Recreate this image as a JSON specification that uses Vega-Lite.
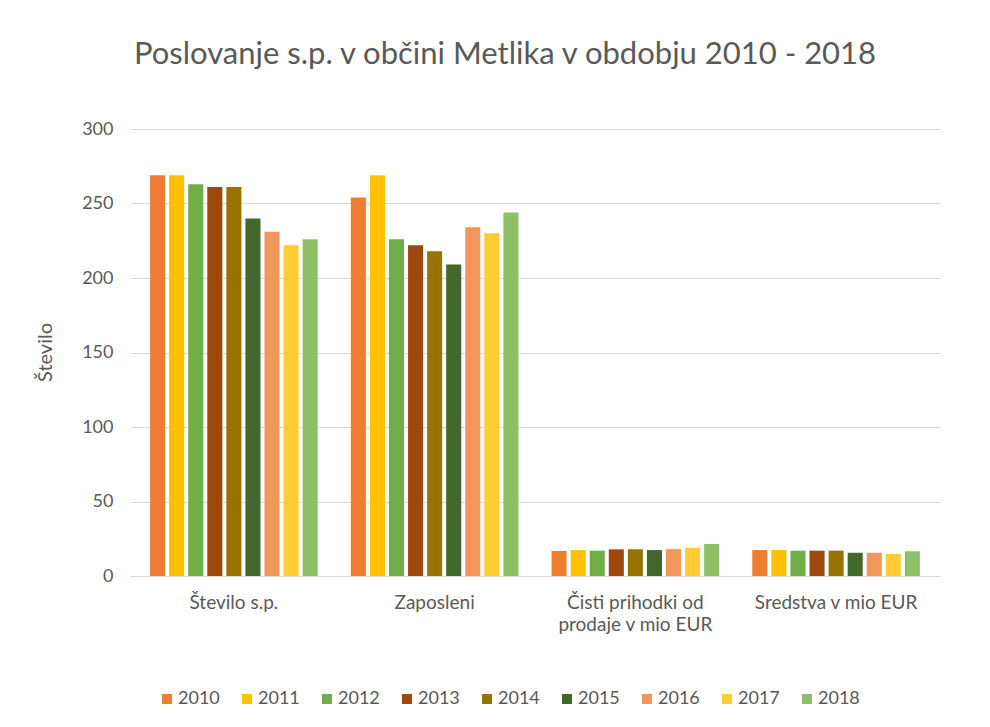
{
  "$schema": "https://vega.github.io/schema/vega-lite/v6.json",
  "autosize": {"type": "none"},
  "width": 810,
  "height": 447,
  "padding": {"left": 130, "top": 129, "right": 50, "bottom": 151},
  "background": "white",
  "title": {
    "text": "Poslovanje s.p. v občini Metlika v obdobju 2010 - 2018",
    "font": "Lato",
    "fontSize": 31,
    "fontWeight": "normal",
    "color": "#595959",
    "anchor": "middle",
    "dx": -30,
    "offset": 49
  },
  "data": {
    "values": [
      {"kat": "Število s.p.", "leto": "2010", "v": 269},
      {"kat": "Število s.p.", "leto": "2011", "v": 269},
      {"kat": "Število s.p.", "leto": "2012", "v": 263},
      {"kat": "Število s.p.", "leto": "2013", "v": 261},
      {"kat": "Število s.p.", "leto": "2014", "v": 261},
      {"kat": "Število s.p.", "leto": "2015", "v": 240},
      {"kat": "Število s.p.", "leto": "2016", "v": 231},
      {"kat": "Število s.p.", "leto": "2017", "v": 222},
      {"kat": "Število s.p.", "leto": "2018", "v": 226},
      {"kat": "Zaposleni", "leto": "2010", "v": 254},
      {"kat": "Zaposleni", "leto": "2011", "v": 269},
      {"kat": "Zaposleni", "leto": "2012", "v": 226},
      {"kat": "Zaposleni", "leto": "2013", "v": 222},
      {"kat": "Zaposleni", "leto": "2014", "v": 218},
      {"kat": "Zaposleni", "leto": "2015", "v": 209},
      {"kat": "Zaposleni", "leto": "2016", "v": 234},
      {"kat": "Zaposleni", "leto": "2017", "v": 230},
      {"kat": "Zaposleni", "leto": "2018", "v": 244},
      {"kat": "Čisti prihodki od prodaje v mio EUR", "leto": "2010", "v": 16.8},
      {"kat": "Čisti prihodki od prodaje v mio EUR", "leto": "2011", "v": 17.4},
      {"kat": "Čisti prihodki od prodaje v mio EUR", "leto": "2012", "v": 17.0},
      {"kat": "Čisti prihodki od prodaje v mio EUR", "leto": "2013", "v": 17.9},
      {"kat": "Čisti prihodki od prodaje v mio EUR", "leto": "2014", "v": 17.9},
      {"kat": "Čisti prihodki od prodaje v mio EUR", "leto": "2015", "v": 17.4},
      {"kat": "Čisti prihodki od prodaje v mio EUR", "leto": "2016", "v": 18.0},
      {"kat": "Čisti prihodki od prodaje v mio EUR", "leto": "2017", "v": 18.8},
      {"kat": "Čisti prihodki od prodaje v mio EUR", "leto": "2018", "v": 21.5},
      {"kat": "Sredstva v mio EUR", "leto": "2010", "v": 17.4},
      {"kat": "Sredstva v mio EUR", "leto": "2011", "v": 17.4},
      {"kat": "Sredstva v mio EUR", "leto": "2012", "v": 17.0},
      {"kat": "Sredstva v mio EUR", "leto": "2013", "v": 17.0},
      {"kat": "Sredstva v mio EUR", "leto": "2014", "v": 17.0},
      {"kat": "Sredstva v mio EUR", "leto": "2015", "v": 15.6},
      {"kat": "Sredstva v mio EUR", "leto": "2016", "v": 15.6},
      {"kat": "Sredstva v mio EUR", "leto": "2017", "v": 14.8},
      {"kat": "Sredstva v mio EUR", "leto": "2018", "v": 16.6}
    ]
  },
  "mark": {"type": "bar"},
  "encoding": {
    "x": {
      "field": "kat",
      "type": "nominal",
      "sort": null,
      "scale": {"paddingInner": 0.165, "paddingOuter": 0.1},
      "axis": {
        "title": null,
        "labelAngle": 0,
        "labelFont": "Lato",
        "labelFontSize": 19,
        "labelColor": "#595959",
        "labelPadding": 17,
        "labelBaseline": "top",
        "labelLineHeight": 22,
        "ticks": false,
        "domainColor": "#D9D9D9",
        "labelExpr": "datum.label == 'Čisti prihodki od prodaje v mio EUR' ? ['Čisti prihodki od', 'prodaje v mio EUR'] : datum.label"
      }
    },
    "xOffset": {
      "field": "leto",
      "type": "nominal",
      "scale": {"paddingInner": 0.21, "paddingOuter": 0}
    },
    "y": {
      "field": "v",
      "type": "quantitative",
      "scale": {"domain": [0, 300]},
      "axis": {
        "title": "Število",
        "titleFont": "Lato",
        "titleFontSize": 20,
        "titleFontWeight": "normal",
        "titleColor": "#595959",
        "titleAngle": -90,
        "titleX": -85,
        "titleY": 223,
        "titleAlign": "center",
        "titleBaseline": "middle",
        "values": [0, 50, 100, 150, 200, 250, 300],
        "labelFont": "Lato",
        "labelFontSize": 18,
        "labelColor": "#595959",
        "labelPadding": 17,
        "ticks": false,
        "domain": false,
        "gridColor": "#D9D9D9"
      }
    },
    "color": {
      "field": "leto",
      "type": "nominal",
      "scale": {
        "domain": ["2010", "2011", "2012", "2013", "2014", "2015", "2016", "2017", "2018"],
        "range": ["#ED7D31", "#FFC000", "#70AD47", "#9E480E", "#997300", "#43682B", "#F1975A", "#FFCD33", "#8CC168"]
      },
      "legend": {
        "title": null,
        "orient": "none",
        "direction": "horizontal",
        "legendX": 28,
        "legendY": 561,
        "symbolType": "square",
        "symbolSize": 100,
        "symbolStrokeWidth": 0,
        "labelFont": "Lato",
        "labelFontSize": 18,
        "labelColor": "#595959",
        "labelOffset": 2,
        "columnPadding": 18
      }
    }
  },
  "config": {"view": {"stroke": null}}
}
